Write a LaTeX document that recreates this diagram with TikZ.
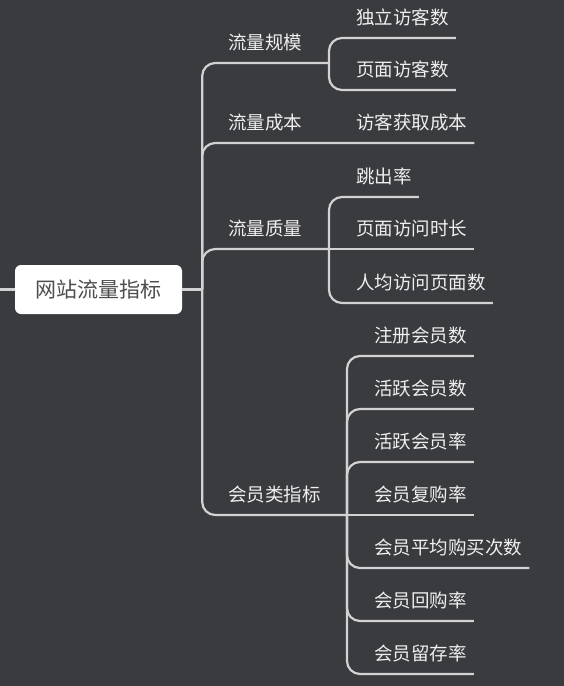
\documentclass[tikz,border=0pt]{standalone}
\usepackage{fontspec}
\usetikzlibrary{positioning,calc}
\newfontfamily\cjk{Noto Sans CJK SC}
\definecolor{canvas}{HTML}{3A3B3F}
\definecolor{branch}{HTML}{D2D2D4}
\definecolor{label}{HTML}{EFEFEF}
\definecolor{roottext}{HTML}{4D4D4D}
\tikzset{
  every node/.style={font=\cjk},
  rootbox/.style={
    rectangle, rounded corners=6pt,
    fill=white, minimum width=167pt, minimum height=49pt,
    text=roottext, font=\cjk\fontsize{21}{25}\selectfont
  },
  topic/.style={
    anchor=south west, inner xsep=7pt, inner ysep=0pt,
    minimum height=40pt, text=label,
    font=\cjk\fontsize{18.5}{22}\selectfont
  },
  link/.style={draw=branch, line width=2.2pt, rounded corners=13pt},
}
\begin{document}
\begin{tikzpicture}[x=1pt, y=-1pt]
  \fill[canvas] (0,0) rectangle (564,686);
  \useasboundingbox (0,0) rectangle (564,686);

  \node[rootbox] (root) at (98.5,289.5) {网站流量指标};

  % first level
  \node[topic] (scale) at (221,63) {流量规模};
  \node[topic] (cost) at (221,143) {流量成本};
  \node[topic] (quality) at (221,249) {流量质量};
  \node[topic] (member) at (221,515) {会员类指标};

  % second level
  \node[topic] (uv) at (349,38) {独立访客数};
  \node[topic] (pv) at (349,90) {页面访客数};
  \node[topic] (acq) at (349,143) {访客获取成本};
  \node[topic] (bounce) at (349,197) {跳出率};
  \node[topic] (dur) at (349,249) {页面访问时长};
  \node[topic] (ppv) at (349,303) {人均访问页面数};
  \node[topic] (reg) at (367,356) {注册会员数};
  \node[topic] (act) at (367,409) {活跃会员数};
  \node[topic] (actr) at (367,462) {活跃会员率};
  \node[topic] (rep) at (367,515) {会员复购率};
  \node[topic] (avg) at (367,568) {会员平均购买次数};
  \node[topic] (rebuy) at (367,621) {会员回购率};
  \node[topic] (ret) at (367,674) {会员留存率};

  \coordinate (stub) at (0,289.5);
  \coordinate (jroot) at ($(root.east)+(20,0)$);
  \coordinate (jscale) at (329,63);
  \coordinate (jquality) at (329,249);
  \coordinate (jmember) at (347,515);

  \draw[link] (stub) -- (root.west);
  \draw[link] (root.east) -- (jroot);
  \draw[link] (jroot) |- (jscale);
  \draw[link] (jroot) |- (acq.south east);
  \draw[link] (jroot) |- (jquality);
  \draw[link] (jroot) |- (jmember);
  \foreach \c in {uv,pv} \draw[link] (jscale) |- (\c.south east);
  \foreach \c in {bounce,ppv} \draw[link] (jquality) |- (\c.south east);
  \draw[link] (jquality) -- (dur.south east);
  \foreach \c in {reg,act,actr,avg,rebuy,ret} \draw[link] (jmember) |- (\c.south east);
  \draw[link] (jmember) -- (rep.south east);
\end{tikzpicture}
\end{document}
